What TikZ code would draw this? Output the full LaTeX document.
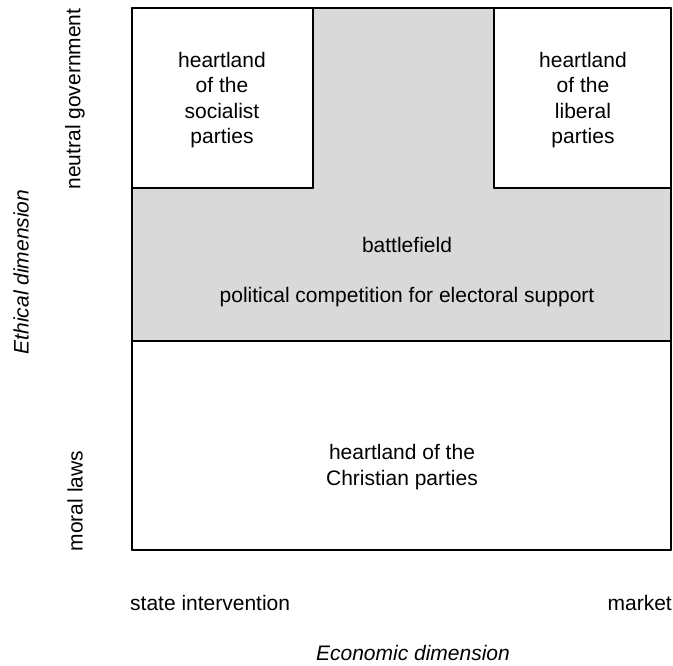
\documentclass[tikz,border=0pt]{standalone}
\usepackage{fontspec}
\setmainfont{Liberation Sans}
\begin{document}
\begin{tikzpicture}[x=1pt,y=-1pt,
  lbl/.style={font=\fontsize{21}{25.5}\selectfont, align=center, inner sep=0pt},
  region/.style={draw=black, line width=2.5pt, line join=round}]
\useasboundingbox (0,0) rectangle (673,666);
% gray battlefield (whole top part)
\fill[gray!30] (132,8) rectangle (671,341);
% white heartlands
\draw[region, fill=white] (132,8) rectangle (313,188);
\draw[region, fill=white] (494,8) rectangle (671,188);
\draw[region, fill=white] (132,341) rectangle (671,550);
% outer frame
\draw[region] (132,8) rectangle (671,550);
\draw[region] (132,188) -- (313,188) -- (313,8);
\draw[region] (671,188) -- (494,188) -- (494,8);
% texts
\node[lbl] (soc) at (222,100) {heartland\\of the\\socialist\\parties};
\node[lbl] (lib) at (583,100) {heartland\\of the\\liberal\\parties};
\node[lbl] (bat) at (407,245) {battlefield};
\node[lbl] (pol) at (407,297) {political competition for electoral support};
\node[lbl] (chr) at (402,467) {heartland of the\\Christian parties};
\node[lbl, rotate=90] (neu) at (75,99) {neutral government};
\node[lbl, rotate=90] (mor) at (75,501) {moral laws};
\node[lbl, rotate=90, font=\fontsize{21}{25.5}\selectfont\itshape] (eth) at (21,272) {Ethical dimension};
\node[lbl, anchor=west] (sta) at (130,603) {state intervention};
\node[lbl, anchor=east] (mar) at (672,603) {market};
\node[lbl, font=\fontsize{21}{25.5}\selectfont\itshape] (eco) at (413,653) {Economic dimension};
\end{tikzpicture}
\end{document}
